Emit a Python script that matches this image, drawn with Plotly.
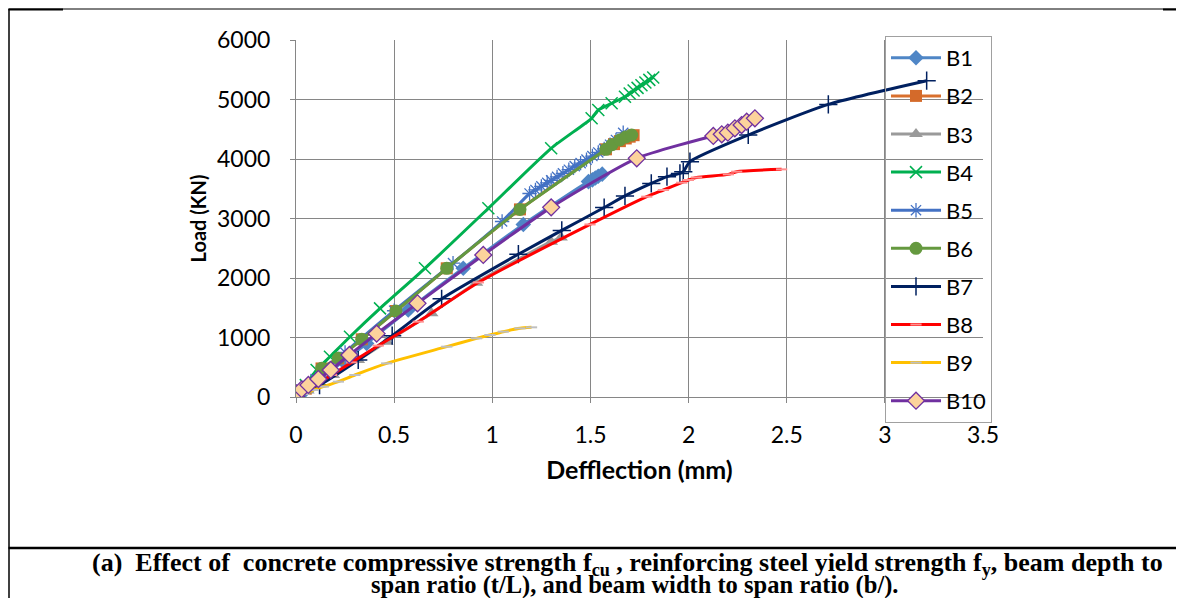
import plotly.graph_objects as go

# ---------------- data (deflection mm, load kN) ----------------
b1_x = [0, 0.03, 0.08, 0.15, 0.24, 0.36, 0.572, 0.852, 1.158, 1.49, 1.51, 1.525, 1.54, 1.56]
b1_y = [0, 60, 190, 370, 600, 900, 1462, 2163, 2900, 3620, 3650, 3680, 3710, 3745]

b2_x = [0, 0.05, 0.13, 0.215, 0.335, 0.509, 0.768, 1.141, 1.579, 1.62, 1.65, 1.68, 1.70, 1.72]
b2_y = [0, 140, 480, 650, 970, 1445, 2163, 3153, 4163, 4250, 4300, 4345, 4375, 4400]

b3_x = [0, 0.06, 0.19, 0.317, 0.462, 0.691, 0.919, 1.30, 1.35]
b3_y = [0, 110, 370, 622, 929, 1406, 1920, 2611, 2680]

b4_x = [0, 0.05, 0.105, 0.173, 0.275, 0.428, 0.657, 0.98, 1.30, 1.506, 1.54, 1.608, 1.676,
        1.70, 1.72, 1.74, 1.76, 1.78, 1.80, 1.82]
b4_y = [0, 200, 454, 677, 1013, 1490, 2163, 3171, 4180, 4684, 4823, 4936, 5047,
        5100, 5150, 5195, 5240, 5285, 5330, 5370]

b5_x = [0, 0.1, 0.25, 0.5, 0.8, 1.05, 1.19, 1.22, 1.25, 1.28, 1.30, 1.33, 1.36, 1.39, 1.42,
        1.45, 1.48, 1.51, 1.54, 1.57, 1.60, 1.63, 1.667]
b5_y = [0, 300, 750, 1450, 2250, 2950, 3420, 3480, 3540, 3600, 3640, 3700, 3760, 3820, 3880,
        3930, 3990, 4050, 4110, 4170, 4240, 4320, 4440]

b6_x = [0, 0.05, 0.131, 0.216, 0.335, 0.509, 0.768, 1.141, 1.579, 1.61, 1.65, 1.68, 1.71]
b6_y = [0, 140, 482, 650, 970, 1445, 2163, 3153, 4163, 4240, 4319, 4370, 4403]

b7_x = [0, 0.12, 0.317, 0.49, 0.742, 1.133, 1.354, 1.57, 1.676, 1.81, 1.89, 1.956, 1.973,
        2.007, 2.304, 2.712, 3.213]
b7_y = [0, 200, 622, 1030, 1650, 2400, 2800, 3185, 3380, 3590, 3703, 3758, 3787,
        3955, 4403, 4918, 5316]

b8_x = [0, 0.1, 0.182, 0.284, 0.419, 0.623, 0.929, 1.498, 1.787, 1.872, 1.965, 1.999, 2.041,
        2.203, 2.245, 2.474]
b8_y = [0, 200, 370, 582, 863, 1266, 1925, 2900, 3367, 3479, 3602, 3647, 3690,
        3742, 3787, 3826]

b9_x = [0, 0.04, 0.088, 0.139, 0.216, 0.30, 0.462, 0.768, 0.92, 0.988, 1.056, 1.141, 1.20]
b9_y = [0, 50, 118, 174, 258, 370, 565, 846, 986, 1042, 1098, 1154, 1171]

b10_x = [0, 0.003, 0.029, 0.063, 0.114, 0.177, 0.272, 0.411, 0.619, 0.954, 1.30, 1.736,
         2.126, 2.169, 2.20, 2.236, 2.27, 2.296, 2.338]
b10_y = [0, 62, 129, 202, 302, 454, 706, 1065, 1574, 2387, 3187, 4011,
         4387, 4415, 4443, 4515, 4571, 4627, 4683]

names = ["B1", "B2", "B3", "B4", "B5", "B6", "B7", "B8", "B9", "B10"]
xs = [b1_x, b2_x, b3_x, b4_x, b5_x, b6_x, b7_x, b8_x, b9_x, b10_x]
ys = [b1_y, b2_y, b3_y, b4_y, b5_y, b6_y, b7_y, b8_y, b9_y, b10_y]

x_ticks = [0, 0.5, 1, 1.5, 2, 2.5, 3, 3.5]
y_ticks = [0, 1000, 2000, 3000, 4000, 5000, 6000]

# ---------------- styles ----------------
line_colors = ["#4F86C6", "#D9702E", "#9A9A9A", "#00B050", "#4472C4",
               "#65993F", "#002060", "#FF0000", "#FFC000", "#7030A0"]
markers = [
    dict(symbol="diamond", size=12, color="#4F86C6"),
    dict(symbol="square", size=12, color="#D46A2A"),
    dict(symbol="triangle-up", size=12, color="#9A9A9A"),
    dict(symbol="x-thin-open", size=12, color="#00B050", line=dict(width=1.5, color="#00B050")),
    dict(symbol="asterisk-open", size=12, color="#4472C4", line=dict(width=1.3, color="#4472C4")),
    dict(symbol="circle", size=13, color="#65993F"),
    dict(symbol="cross-thin-open", size=13, color="#002060", line=dict(width=1.5, color="#002060")),
    dict(symbol="line-ew-open", size=8, color="#FF9090", line=dict(width=2, color="#FF9090")),
    dict(symbol="line-ew-open", size=8, color="#BFBFBF", line=dict(width=2, color="#BFBFBF")),
    dict(symbol="diamond", size=13, color="#FCD39C", line=dict(width=1.3, color="#7030A0")),
]

fig = go.Figure()
for i in range(10):
    fig.add_trace(go.Scatter(
        x=xs[i], y=ys[i], name=names[i], mode="lines+markers",
        line=dict(color=line_colors[i], width=3, shape="spline", smoothing=0.6),
        marker=markers[i], legendgroup=names[i],
    ))

# page has an 8px body margin: screen coordinate = figure coordinate + 8
OFF = 8
W, H = 1184 - 2 * OFF, 606 - 2 * OFF
L, R, T, B = 296 - OFF, 983 - OFF, 40 - OFF, 397 - OFF

def px(sx):
    return (sx - OFF - L) / (R - L)
def py(sy):
    return (B - (sy - OFF)) / (B - T)

axis_common = dict(showline=True, linecolor="#868686", linewidth=1,
                   showgrid=True, gridcolor="#868686", gridwidth=1,
                   ticks="outside", ticklen=5, tickcolor="#868686",
                   zeroline=False, tickfont=dict(family="Lato", size=23, color="#000"))

fig.update_xaxes(range=[0, 3.5], tickvals=x_ticks, ticktext=[str(v) for v in x_ticks],
                 ticklabelstandoff=12,
                 title=dict(text="<b>Defflection (mm)</b>", font=dict(family="Lato", size=25, color="#000"),
                            standoff=14),
                 **axis_common)
fig.update_yaxes(range=[0, 6000], tickvals=y_ticks, ticktext=[str(v) for v in y_ticks],
                 ticklabelstandoff=15,
                 title=dict(text="<b>Load (KN)</b>", font=dict(family="Lato", size=20, color="#000"),
                            standoff=5),
                 **axis_common)

fig.update_layout(
    width=W, height=H,
    margin=dict(l=L, r=W - R, t=T, b=H - B, autoexpand=False),
    paper_bgcolor="white", plot_bgcolor="white",
    showlegend=True,
    legend=dict(x=px(885), xanchor="left", y=py(36), yanchor="top",
                bgcolor="rgba(0,0,0,0)", bordercolor="#A0A0A0", borderwidth=1,
                font=dict(family="Lato", size=22, color="#000"),
                tracegroupgap=6.5, itemwidth=50, maxheight=580),
)

shapes = [
    dict(type="line", xref="paper", yref="paper", x0=px(8.5), x1=px(1180), y0=py(9), y1=py(9),
         line=dict(color="black", width=1)),
    dict(type="line", xref="paper", yref="paper", x0=px(8.5), x1=px(63), y0=py(9.5), y1=py(9.5),
         line=dict(color="black", width=2)),
    dict(type="line", xref="paper", yref="paper", x0=px(1163), x1=px(1180), y0=py(9.5), y1=py(9.5),
         line=dict(color="black", width=2)),
    dict(type="line", xref="paper", yref="paper", x0=px(9), x1=px(9), y0=py(9), y1=py(606),
         line=dict(color="black", width=1.5)),
    dict(type="line", xref="paper", yref="paper", x0=px(8.5), x1=px(1184), y0=py(548), y1=py(548),
         line=dict(color="black", width=2.5)),
]
fig.update_layout(shapes=shapes)

fig.add_annotation(xref="paper", yref="paper", x=px(627), y=py(564), xanchor="center", yanchor="middle",
                   showarrow=False, font=dict(family="Liberation Serif", size=26, color="#000"),
                   text="<b>(a)  Effect of  concrete compressive strength f<sub>cu</sub> , reinforcing steel yield strength f<sub>y</sub>, beam depth to</b>")
fig.add_annotation(xref="paper", yref="paper", x=px(634), y=py(585), xanchor="center", yanchor="middle",
                   showarrow=False, font=dict(family="Liberation Serif", size=24.5, color="#000"),
                   text="<b>span ratio (t/L), and beam width to span ratio (b/).</b>")

fig.write_html("out.html")
